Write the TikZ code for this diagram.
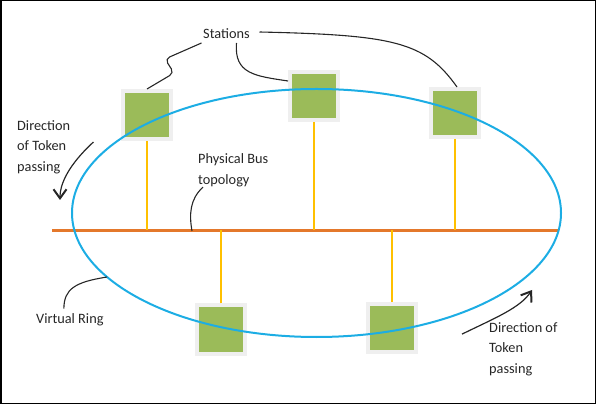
\documentclass[tikz,border=0pt]{standalone}
\usepackage{fontspec}
\setmainfont{Carlito}
\usetikzlibrary{arrows.meta}
\usetikzlibrary{shapes.geometric}

\definecolor{stngreen}{HTML}{9BBB59}
\definecolor{halo}{HTML}{EFEFEF}
\definecolor{ringblue}{HTML}{1CADE4}
\definecolor{busorange}{HTML}{E4782B}
\definecolor{dropyellow}{HTML}{FFC000}
\definecolor{ink}{HTML}{262626}

\begin{document}
\begin{tikzpicture}[x=1pt,y=1pt,
  stn/.style={rectangle,fill=stngreen,draw=halo,line width=4pt,minimum size=48pt,inner sep=0pt},
  lbl/.style={inner sep=0pt,align=left,text=ink,font=\fontsize{14.3}{20.5}\selectfont},
  bus/.style={busorange,line width=3pt},
  drop/.style={dropyellow,line width=2pt},
  ptr/.style={ink,line width=1.1pt},
  tok/.style={ink,line width=1.2pt,-{Straight Barb[length=9pt,width=13pt,line width=2pt]}}]
\useasboundingbox (0,0) rectangle (596,404);
\draw[line width=1.5pt] (0.75,0.75) rectangle (595.25,403.25);

% bus line
\coordinate (busL) at (52,173.5);
\coordinate (busR) at (558,173.5);
\draw[bus] (busL) -- (busR);

% stations
\draw(147,289) node[stn] (s1) {};
\draw(314,308) node[stn] (s2) {};
\draw(455,291) node[stn] (s3) {};
\draw(221,74.5) node[stn] (s4) {};
\draw(392,76) node[stn] (s5) {};

\draw[drop] (s1.south) -- (s1.south |- busL);
\draw[drop] (s2.south) -- (s2.south |- busL);
\draw[drop] (s3.south) -- (s3.south |- busL);
\draw[drop] (s4.north) -- (s4.north |- busL);
\draw[drop] (s5.north) -- (s5.north |- busL);

% virtual ring
\draw(316.5,191) node[ellipse,draw=ringblue,line width=2pt,minimum width=489pt,minimum height=248pt,inner sep=0pt,outer sep=0pt] (ring) {};

% labels
\draw(226.5,370) node[lbl] (st) {Stations};
\draw(198,233.5) node[lbl,anchor=west] (pb) {Physical Bus\\topology};
\draw(36,84) node[lbl,anchor=west] (vr) {Virtual Ring};
\draw(17,257) node[lbl,anchor=west] (dl) {Direction\\of Token\\passing};
\draw(489,55) node[lbl,anchor=west] (dr) {Direction of\\Token\\passing};

\draw[ptr,rounded corners=5pt] ([shift={(-25,-9)}]st.center) -- (165,345) -- (174,331) -- (s1.north);
\draw[ptr] ([shift={(10,-9)}]st.center) .. controls (234,330) and (255,328) .. (s2.150);
\draw[ptr] ([shift={(33,2)}]st.center) .. controls (395,369) and (425,362) .. ([xshift=2pt]s3.north);

\coordinate (pbend) at (192,173);
\draw[ptr] ([xshift=5pt]pb.south west) .. controls (190,205) and (189,190) .. (pbend);
\draw[ptr] ([shift={(-6,5)}]vr.north) .. controls (64,115) and (75,122) .. (ring.197);

% token direction
\coordinate (dltip) at (60,204);
\coordinate (drtip) at (532,114);
\draw[tok] ([shift={(23,5)}]dl.east) .. controls (75,245) and (60,225) .. (dltip);
\draw[tok] ([shift={(-27,-12)}]dr.north west) .. controls (495,86) and (520,96) .. (drtip);
\end{tikzpicture}
\end{document}
